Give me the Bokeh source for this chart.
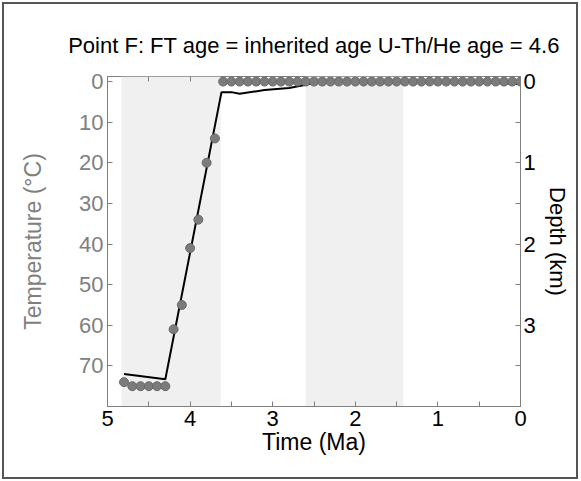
from bokeh.plotting import figure
from bokeh.models import (Range1d, LinearAxis, FixedTicker, BoxAnnotation)
from bokeh.embed import file_html
from bokeh.resources import INLINE

# ---- data ----
title_text = "Point F: FT age = inherited age U-Th/He age = 4.6"

# shaded time intervals (Ma)
band_start = [4.83, 2.60]
band_end = [3.63, 1.42]

# modelled thermal path (black line)
path_time = [4.8, 4.3, 3.62, 3.5, 3.4, 3.1, 2.8, 2.6, 2.45, 1.5, 0.5, 0.0]
path_temp = [72.0, 73.3, 2.6, 2.6, 3.0, 2.1, 1.6, 0.8, 0.0, 0.0, 0.2, 0.6]

# constraint points (grey dots)
pt_time = [4.8, 4.7, 4.6, 4.5, 4.4, 4.3, 4.2, 4.1, 4.0, 3.9, 3.8, 3.7,
           3.6, 3.5, 3.4, 3.3, 3.2, 3.1, 3.0, 2.9, 2.8, 2.7, 2.6, 2.5,
           2.4, 2.3, 2.2, 2.1, 2.0, 1.9, 1.8, 1.7, 1.6, 1.5, 1.4, 1.3,
           1.2, 1.1, 1.0, 0.9, 0.8, 0.7, 0.6, 0.5, 0.4, 0.3, 0.2, 0.1, 0.0]
pt_temp = [74, 75, 75, 75, 75, 75, 61, 55, 41, 34, 20, 14,
           0, 0, 0, 0, 0, 0, 0, 0, 0, 0, 0, 0,
           0, 0, 0, 0, 0, 0, 0, 0, 0, 0, 0, 0,
           0, 0, 0, 0, 0, 0, 0, 0, 0, 0, 0, 0, 0]

temp_ticks = [0, 10, 20, 30, 40, 50, 60, 70]
time_ticks = [0, 1, 2, 3, 4, 5]
time_minor = [0.5, 1.5, 2.5, 3.5, 4.5]
depth_ticks = [0, 1, 2, 3]
depth_minor = [0.5, 1.5, 2.5, 3.5]

FONT = "Liberation Sans"
GREY = "#808080"

p = figure(width=572, height=473, output_backend="svg", toolbar_location=None,
           x_range=Range1d(5, 0), y_range=Range1d(80, -1.25),
           min_border_left=103, min_border_right=56, min_border_top=72, min_border_bottom=71,
           background_fill_color="white", border_fill_color="white")
p.styles = {"outline": "2px solid #555555", "margin": "4px"}
p.grid.visible = False
p.outline_line_color = GREY

p.title.text = title_text
p.title.text_font = FONT
p.title.text_font_size = "22px"
p.title.text_font_style = "normal"
p.title.align = "center"
p.title.text_color = "black"
p.title.standoff = 38

for s, e in zip(band_start, band_end):
    p.add_layout(BoxAnnotation(left=s, right=e, fill_color="#f0f0f0", fill_alpha=1.0,
                               line_color=None, level="underlay"))

p.line(path_time, path_temp, line_color="black", line_width=2)
p.scatter(pt_time, pt_temp, size=9, fill_color="#7b7b7b", line_color="#6a6a6a", line_width=1)

# left axis (temperature)
ya = p.yaxis[0]
ya.ticker = FixedTicker(ticks=temp_ticks)
ya.axis_label = "Temperature (°C)"
ya.axis_line_color = GREY
ya.major_tick_line_color = GREY
ya.major_tick_in = 5
ya.major_tick_out = 0
ya.minor_tick_line_color = None
ya.major_label_text_color = GREY
ya.major_label_text_font = FONT
ya.major_label_text_font_size = "22px"
ya.major_label_standoff = 4
ya.axis_label_text_color = GREY
ya.axis_label_text_font = FONT
ya.axis_label_text_font_size = "23px"
ya.axis_label_text_font_style = "normal"
ya.axis_label_standoff = 30

# bottom axis (time)
xa = p.xaxis[0]
xa.ticker = FixedTicker(ticks=time_ticks, minor_ticks=time_minor)
xa.axis_label = "Time (Ma)"
xa.axis_line_color = GREY
xa.major_tick_line_color = GREY
xa.minor_tick_line_color = GREY
xa.major_tick_in = 5
xa.major_tick_out = 0
xa.minor_tick_in = 5
xa.minor_tick_out = 0
xa.major_label_text_color = "black"
xa.major_label_text_font = FONT
xa.major_label_text_font_size = "22px"
xa.major_label_standoff = 4
xa.axis_label_text_color = "black"
xa.axis_label_text_font = FONT
xa.axis_label_text_font_size = "23px"
xa.axis_label_text_font_style = "normal"
xa.axis_label_standoff = 0

# top axis: ticks only
ta = LinearAxis(ticker=FixedTicker(ticks=time_ticks, minor_ticks=time_minor))
ta.axis_line_color = None
ta.major_tick_line_color = GREY
ta.minor_tick_line_color = GREY
ta.major_tick_in = 5
ta.major_tick_out = 0
ta.minor_tick_in = 5
ta.minor_tick_out = 0
ta.major_label_text_font_size = "0px"
ta.major_label_text_color = None
p.add_layout(ta, "above")

# right axis (depth)
p.extra_y_ranges = {"depth": Range1d(4.0, -1.25 / 20.0)}
ra = LinearAxis(y_range_name="depth", ticker=FixedTicker(ticks=depth_ticks, minor_ticks=depth_minor))
ra.axis_label = "Depth (km)"
ra.axis_line_color = GREY
ra.major_tick_line_color = GREY
ra.minor_tick_line_color = GREY
ra.major_tick_in = 5
ra.major_tick_out = 0
ra.minor_tick_in = 5
ra.minor_tick_out = 0
ra.major_label_text_color = "black"
ra.major_label_text_font = FONT
ra.major_label_text_font_size = "22px"
ra.major_label_standoff = 3
ra.axis_label_text_color = "black"
ra.axis_label_text_font = FONT
ra.axis_label_text_font_size = "22px"
ra.axis_label_text_font_style = "normal"
ra.axis_label_standoff = 6
p.add_layout(ra, "right")

open("out.html", "w").write(file_html(p, INLINE))
